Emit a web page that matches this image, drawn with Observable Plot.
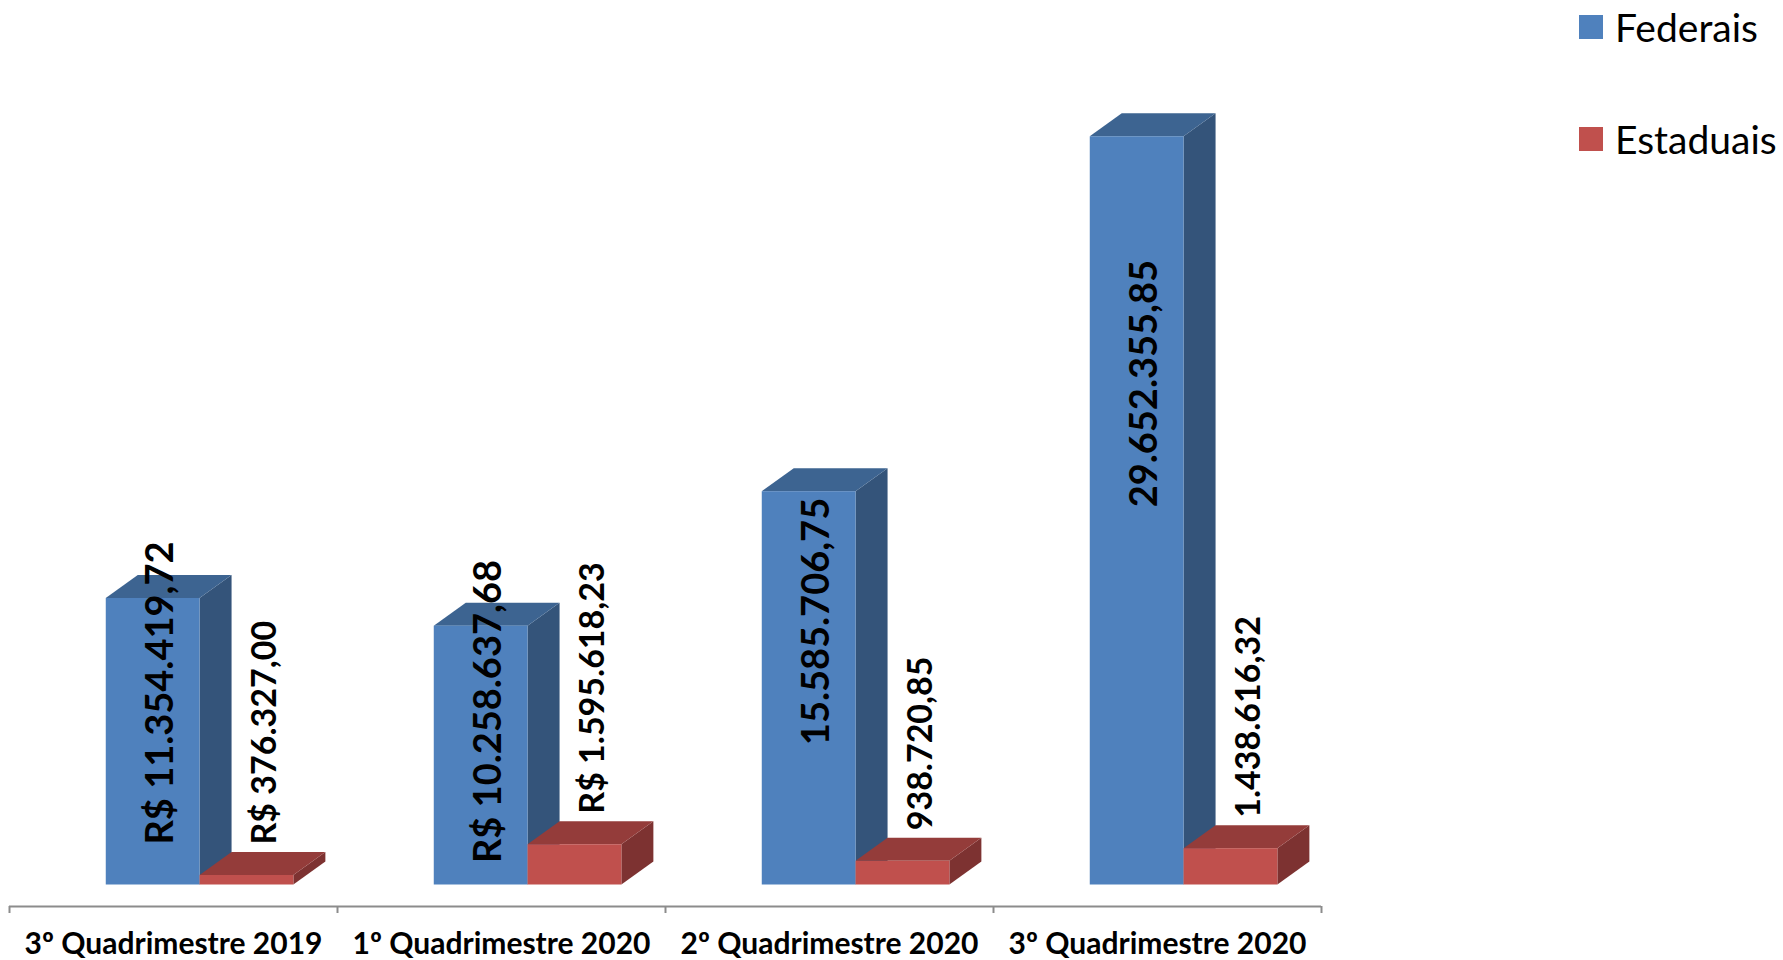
<!DOCTYPE html>
<html>
<head>
<meta charset="utf-8">
<script src="https://cdn.jsdelivr.net/npm/d3@7"></script>
<script src="https://cdn.jsdelivr.net/npm/@observablehq/plot@0.6"></script>
<style>
  html, body { margin: 0; padding: 0; background: #fff; }
  #wrap { position: relative; width: 1783px; height: 960px; overflow: hidden; font-family: Lato, "Open Sans", sans-serif; }
  #legend { position: absolute; left: 1579px; top: 0; }
  .item { position: absolute; left: 0; display: flex; align-items: center; white-space: nowrap; font-size: 39px; color: #000; }
  .sw { width: 24px; height: 24px; margin-right: 12px; }
</style>
</head>
<body>
<div id="wrap"><div id="legend"></div></div>
<script>
// ---- data ----
const categories = ["3º Quadrimestre 2019", "1º Quadrimestre 2020", "2º Quadrimestre 2020", "3º Quadrimestre 2020"];
const seriesNames = ["Federais", "Estaduais"];
const federais = [11354419.72, 10258637.68, 15585706.75, 29652355.85];
const estaduais = [376327.00, 1595618.23, 938720.85, 1438616.32];
const federaisLabels = ["R$ 11.354.419,72", "R$ 10.258.637,68", "15.585.706,75", "29.652.355,85"];
const estaduaisLabels = ["R$ 376.327,00", "R$ 1.595.618,23", "938.720,85", "1.438.616,32"];

// ---- style / layout ----
const W = 1783, H = 960;
const marginLeft = 9, marginRight = 462, marginTop = 77, marginBottom = 54;
const yMax = 32e6;
const floorPx = 21.5;               // gap between bar base and axis line (3D floor)
const depthPx = {x: 32, y: 23};     // 3D depth in pixels
const innerW = W - marginLeft - marginRight;
const innerH = H - marginTop - marginBottom;
const unitPx = innerW / categories.length;
const pxPerVal = (innerH - floorPx) / yMax;
const yLow = -floorPx / pxPerVal;
const dX = depthPx.x / unitPx;
const dY = depthPx.y / pxPerVal;
const barOffset = 0.295, barW = 0.286;

const colors = {
  Federais: {front: "#4F81BD", top: "#3D6491", side: "#34547A"},
  Estaduais: {front: "#C0504D", top: "#943C3A", side: "#7D3231"}
};

const seriesVals = [federais, estaduais];
const bars = [];
seriesNames.forEach((s, si) => {
  categories.forEach((c, i) => {
    const x1 = i + barOffset + si * barW;
    bars.push({series: s, i, x1, x2: x1 + barW, v: seriesVals[si][i], id: s + i});
  });
});

function faces(series) {
  const bs = bars.filter(b => b.series === series);
  const side = bs.flatMap(b => [
    {id: b.id, x: b.x2, y1: 0, y2: b.v},
    {id: b.id, x: b.x2 + dX, y1: dY, y2: b.v + dY}
  ]);
  const top = bs.flatMap(b => [
    {id: b.id, y: b.v, x1: b.x1, x2: b.x2},
    {id: b.id, y: b.v + dY, x1: b.x1 + dX, x2: b.x2 + dX}
  ]);
  const c = colors[series];
  return [
    Plot.areaY(side, {x: "x", y1: "y1", y2: "y2", z: "id", fill: c.side}),
    Plot.areaX(top, {y: "y", x1: "x1", x2: "x2", z: "id", fill: c.top}),
    Plot.rect(bs, {x1: "x1", x2: "x2", y1: 0, y2: "v", fill: c.front})
  ];
}

const fedBars = bars.filter(b => b.series === "Federais");
const estBars = bars.filter(b => b.series === "Estaduais");

const chart = Plot.plot({
  width: W, height: H,
  marginLeft, marginRight, marginTop, marginBottom,
  x: {type: "linear", domain: [0, categories.length], axis: null},
  y: {type: "linear", domain: [yLow, yMax], axis: null},
  style: {fontFamily: "Lato, 'Open Sans', sans-serif", background: "#fff"},
  marks: [
    ...faces("Federais"),
    ...faces("Estaduais"),
    Plot.ruleY([yLow], {x1: 0, x2: categories.length, stroke: "#8c8c8c", strokeWidth: 2}),
    Plot.ruleX(d3.range(categories.length + 1), {x: d => d, y1: yLow, y2: yLow, stroke: "#8c8c8c", strokeWidth: 2, insetBottom: -7}),
    Plot.text(categories, {x: (d, i) => i + 0.5, y: yLow, dy: 38, text: d => d, fontSize: 30, fontWeight: "bold", fill: "#000"}),
    Plot.text(fedBars, {x: b => (b.x1 + b.x2) / 2, y: b => b.v * 0.67, dx: 8, text: (b) => federaisLabels[b.i],
      rotate: -90, fontSize: 38, fontWeight: "bold", fill: "#000"}),
    Plot.text(estBars, {x: b => (b.x1 + b.x2) / 2, y: b => b.v, dx: 18, dy: -31, text: (b) => estaduaisLabels[b.i],
      rotate: -90, textAnchor: "start", fontSize: 34, fontWeight: "bold", fill: "#000"})
  ]
});
document.getElementById("wrap").prepend(chart);

// legend
const legend = document.getElementById("legend");
const legendTops = [4, 116];
seriesNames.forEach((s, k) => {
  const it = document.createElement("div");
  it.className = "item";
  it.style.top = legendTops[k] + "px";
  const sw = document.createElement("span");
  sw.className = "sw";
  sw.style.background = colors[s].front;
  it.appendChild(sw);
  it.appendChild(document.createTextNode(s));
  legend.appendChild(it);
});
</script>
</body>
</html>
